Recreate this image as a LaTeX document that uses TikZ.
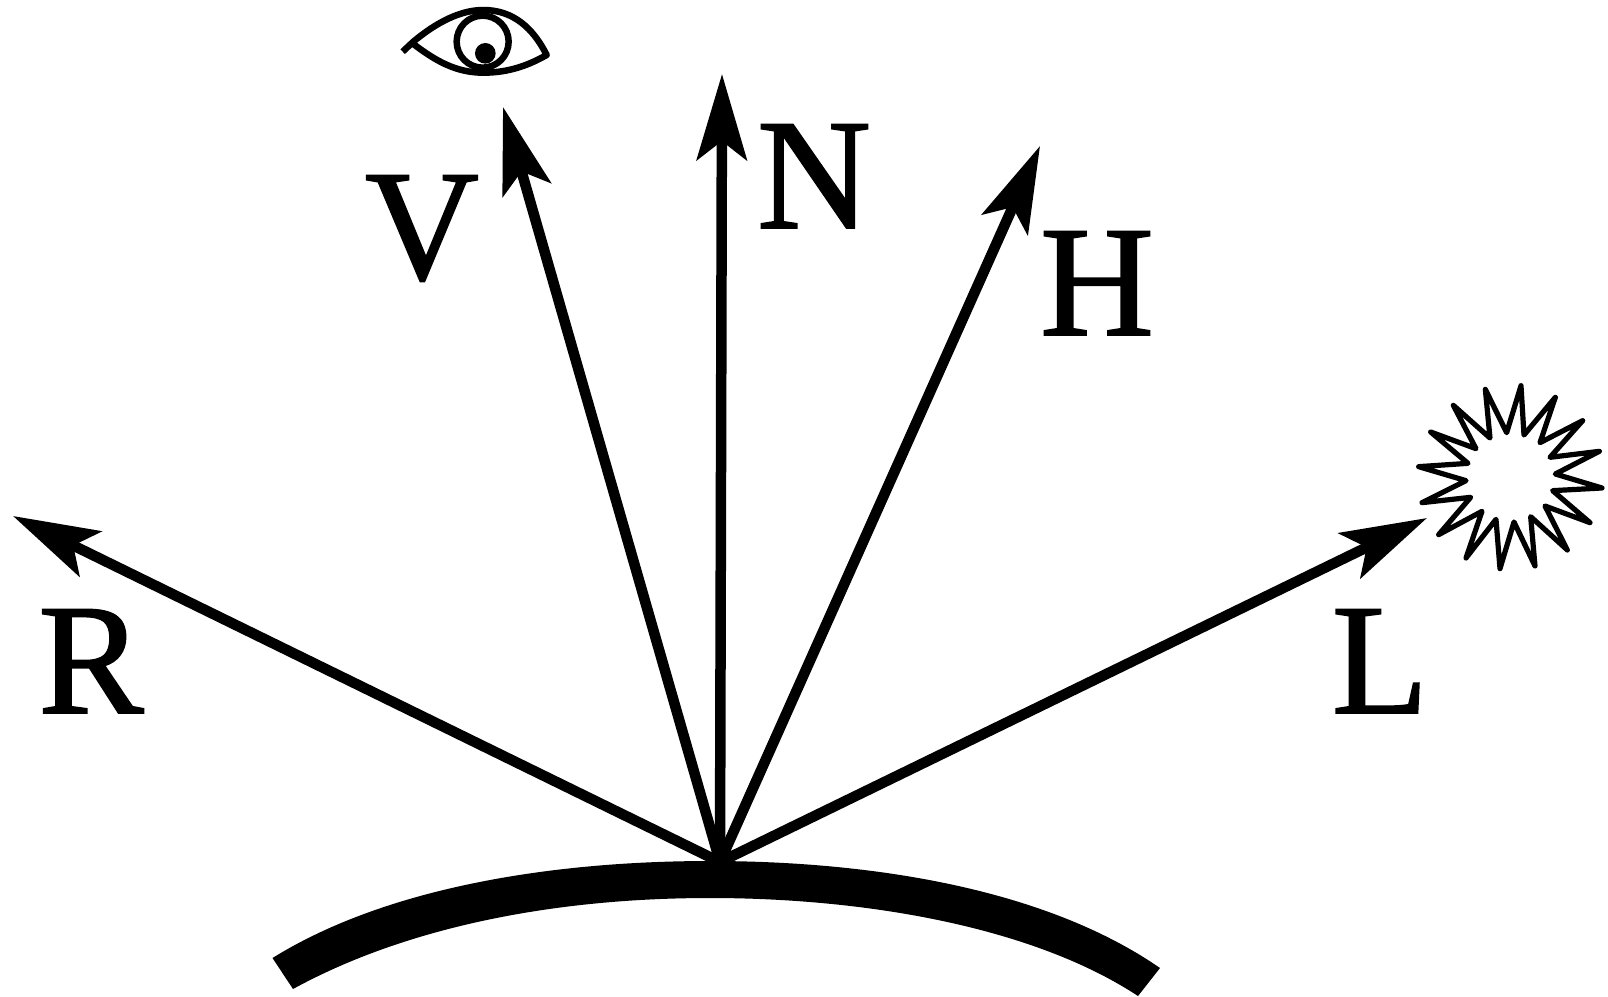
\documentclass[tikz,border=0pt]{standalone}
\usepackage{fontspec}
\setmainfont[FakeBold=1.2]{Liberation Serif}
\usetikzlibrary{arrows.meta}
\tikzset{
  x=1pt,y=-1pt,
  vec/.style={line width=10.5pt,-{Stealth[length=86pt,width=50pt,inset=19pt]}},
  lab/.style={inner sep=0pt,anchor=base,font=\fontsize{158}{158}\selectfont},
  eye outline/.style={line width=6.5pt,line join=round,line cap=butt},
  star outline/.style={line width=5.2pt,line join=round},
}
\begin{document}
\begin{tikzpicture}
\useasboundingbox (0,0) rectangle (1608,996);
% surface
\fill (272.5,958) .. controls (390,885) and (560,861) .. (710,861)
  .. controls (860,861) and (1040,885) .. (1160,968)
  -- (1138,996) .. controls (1030,925) and (860,898) .. (710,898)
  .. controls (560,898) and (410,925) .. (293,989) -- cycle;
% vectors
\coordinate (O) at (720,862);
\coordinate (tR) at (13,516);
\coordinate (tV) at (503,107);
\coordinate (tN) at (722,74);
\coordinate (tH) at (1040,146);
\coordinate (tL) at (1427,518);
\draw[vec] (O) -- (tR);
\draw[vec] (O) -- (tV);
\draw[vec] (O) -- (tN);
\draw[vec] (O) -- (tH);
\draw[vec] (O) -- (tL);
% labels
\node[lab] (V) at (422,279) {V};
\node[lab] (N) at (814,228) {N};
\node[lab] (H) at (1097,335) {H};
\node[lab] (R) at (91,713) {R};
\node[lab] (L) at (1380,713) {L};
% eye
\begin{scope}[xshift=380pt,x=0.3333pt,y=-0.3333pt]
  \draw[eye outline] (68,155) -- (100,125) .. controls (190,50) and (260,30) .. (310,30)
     .. controls (400,30) and (460,85) .. (500,165)
     .. controls (430,205) and (370,218) .. (310,218)
     .. controls (230,218) and (170,185) .. (100,132);
  \draw[eye outline] (308,125) circle [radius=78pt*0.3333];
  \fill (316,160) circle [radius=31pt*0.3333];
\end{scope}
% star
\begin{scope}[xshift=1320pt,yshift=-370pt,x=0.3333pt,y=-0.3333pt]
  \draw[star outline] (603,47) -- (612,195) -- (706,82) -- (660,218) -- (788,152) -- (690,262)
   -- (838,244) -- (706,312) -- (846,354) -- (698,362) -- (810,458) -- (675,408) -- (742,540)
   -- (632,440) -- (645,588) -- (582,456) -- (540,596) -- (528,448) -- (438,564) -- (486,424)
   -- (356,494) -- (452,382) -- (306,398) -- (438,332) -- (296,290) -- (444,280) -- (332,186)
   -- (468,236) -- (400,106) -- (510,204) -- (496,58) -- (560,188) -- cycle;
\end{scope}
\end{tikzpicture}
\end{document}
